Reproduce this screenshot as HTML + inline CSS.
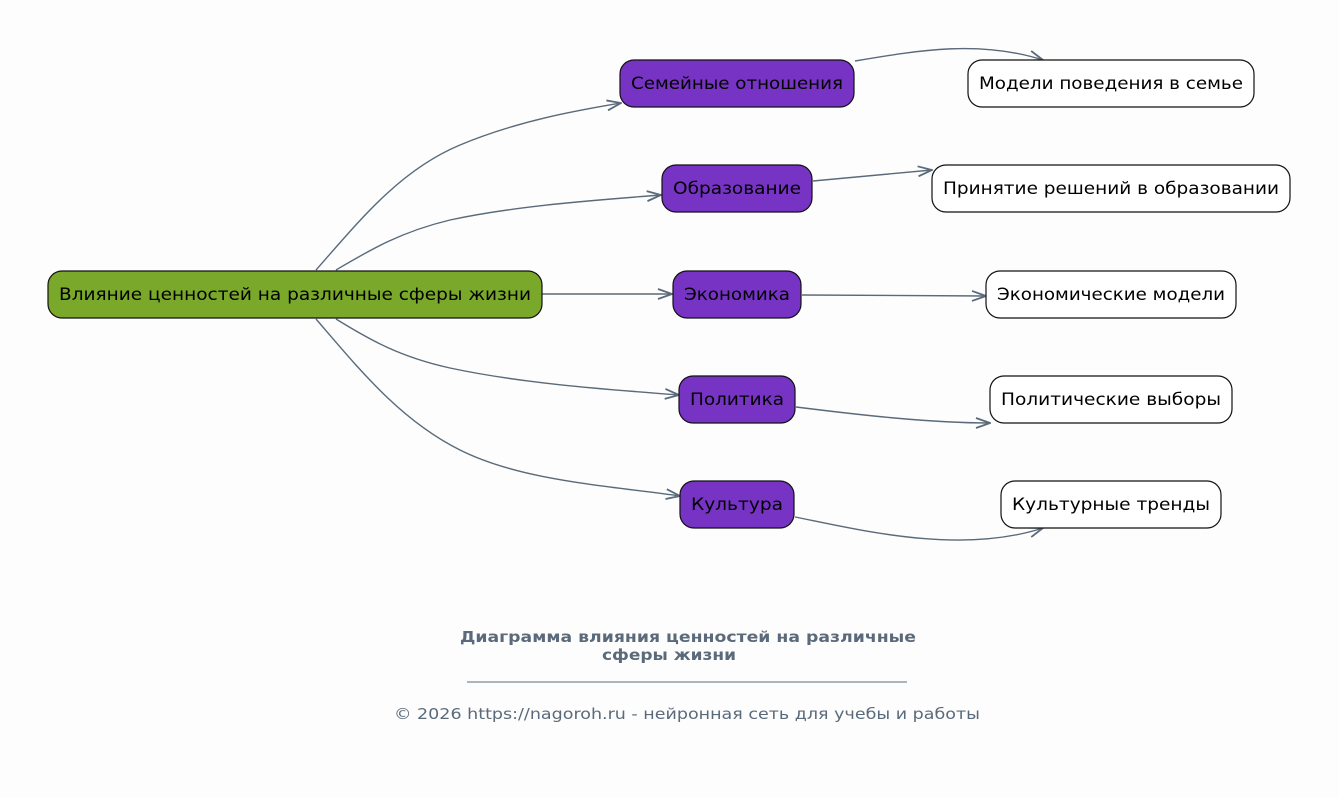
<!DOCTYPE html>
<html><head><meta charset="utf-8"><style>
html,body{margin:0;padding:0;background:#fdfdfd;}
svg{display:block;}
text{font-family:"DejaVu Sans","Liberation Sans",sans-serif;}
</style></head><body>
<svg width="1339" height="798" viewBox="0 0 1339 798" xmlns="http://www.w3.org/2000/svg">
<defs>
<marker id="a" markerWidth="16" markerHeight="12" refX="15" refY="6" orient="auto" markerUnits="userSpaceOnUse">
<path d="M1,1 L15,6 L1,11" fill="none" stroke="#5a6a7a" stroke-width="1.8"/>
</marker>
</defs>
<rect width="1339" height="798" fill="#fdfdfd"/>
<g fill="none" stroke="#5a6a7a" stroke-width="1.4" marker-end="url(#a)">
<path d="M316,270 C360,220 400,170 460,145 C520,120 580,110 621,103"/>
<path d="M336,270 C370,250 400,232 450,220 C520,205 600,200 661,195"/>
<path d="M542,294 L672,294"/>
<path d="M336,319 C370,340 400,357 450,368 C520,383 600,389 679,395"/>
<path d="M316,319 C360,370 400,420 460,450 C520,480 600,485 680,496"/>
<path d="M855,61 C920,50 980,40 1043,60"/>
<path d="M813,181 L932,170"/>
<path d="M802,295 L986,296"/>
<path d="M796,407 C860,415 930,423 990,423"/>
<path d="M795,517 C860,530 960,555 1043,528"/>
</g>
<g stroke="#111" stroke-width="1.2">
<rect x="48" y="271" width="494" height="47" rx="14" fill="#79a82a"/>
<rect x="620" y="60" width="234" height="47" rx="14" fill="#7733c4"/>
<rect x="662" y="165" width="150" height="47" rx="14" fill="#7733c4"/>
<rect x="673" y="271" width="128" height="47" rx="14" fill="#7733c4"/>
<rect x="679" y="376" width="116" height="47" rx="14" fill="#7733c4"/>
<rect x="680" y="481" width="114" height="47" rx="14" fill="#7733c4"/>
<rect x="968" y="60" width="286" height="47" rx="14" fill="#fff"/>
<rect x="932" y="165" width="358" height="47" rx="14" fill="#fff"/>
<rect x="986" y="271" width="250" height="47" rx="14" fill="#fff"/>
<rect x="990" y="376" width="242" height="47" rx="14" fill="#fff"/>
<rect x="1001" y="481" width="220" height="47" rx="14" fill="#fff"/>
</g>
<g font-size="17" fill="#000" text-anchor="middle">
<text x="295" y="300" textLength="472" lengthAdjust="spacingAndGlyphs">Влияние ценностей на различные сферы жизни</text>
<text x="737" y="89" textLength="212" lengthAdjust="spacingAndGlyphs">Семейные отношения</text>
<text x="737" y="194" textLength="128" lengthAdjust="spacingAndGlyphs">Образование</text>
<text x="737" y="300" textLength="106" lengthAdjust="spacingAndGlyphs">Экономика</text>
<text x="737" y="405" textLength="94" lengthAdjust="spacingAndGlyphs">Политика</text>
<text x="737" y="510" textLength="92" lengthAdjust="spacingAndGlyphs">Культура</text>
<text x="1111" y="89" textLength="264" lengthAdjust="spacingAndGlyphs">Модели поведения в семье</text>
<text x="1111" y="194" textLength="336" lengthAdjust="spacingAndGlyphs">Принятие решений в образовании</text>
<text x="1111" y="300" textLength="228" lengthAdjust="spacingAndGlyphs">Экономические модели</text>
<text x="1111" y="405" textLength="220" lengthAdjust="spacingAndGlyphs">Политические выборы</text>
<text x="1111" y="510" textLength="198" lengthAdjust="spacingAndGlyphs">Культурные тренды</text>
</g>
<g fill="#5a6a7a" text-anchor="middle">
<text x="688" y="642" font-size="15" font-weight="bold" textLength="456" lengthAdjust="spacingAndGlyphs">Диаграмма влияния ценностей на различные</text>
<text x="669" y="660" font-size="15" font-weight="bold" textLength="134" lengthAdjust="spacingAndGlyphs">сферы жизни</text>
<text x="687" y="719" font-size="15" textLength="586" lengthAdjust="spacingAndGlyphs">© 2026 https://nagoroh.ru - нейронная сеть для учебы и работы</text>
</g>
<line x1="467" y1="682" x2="907" y2="682" stroke="#5a6a7a" stroke-width="1"/>
</svg>
</body></html>
